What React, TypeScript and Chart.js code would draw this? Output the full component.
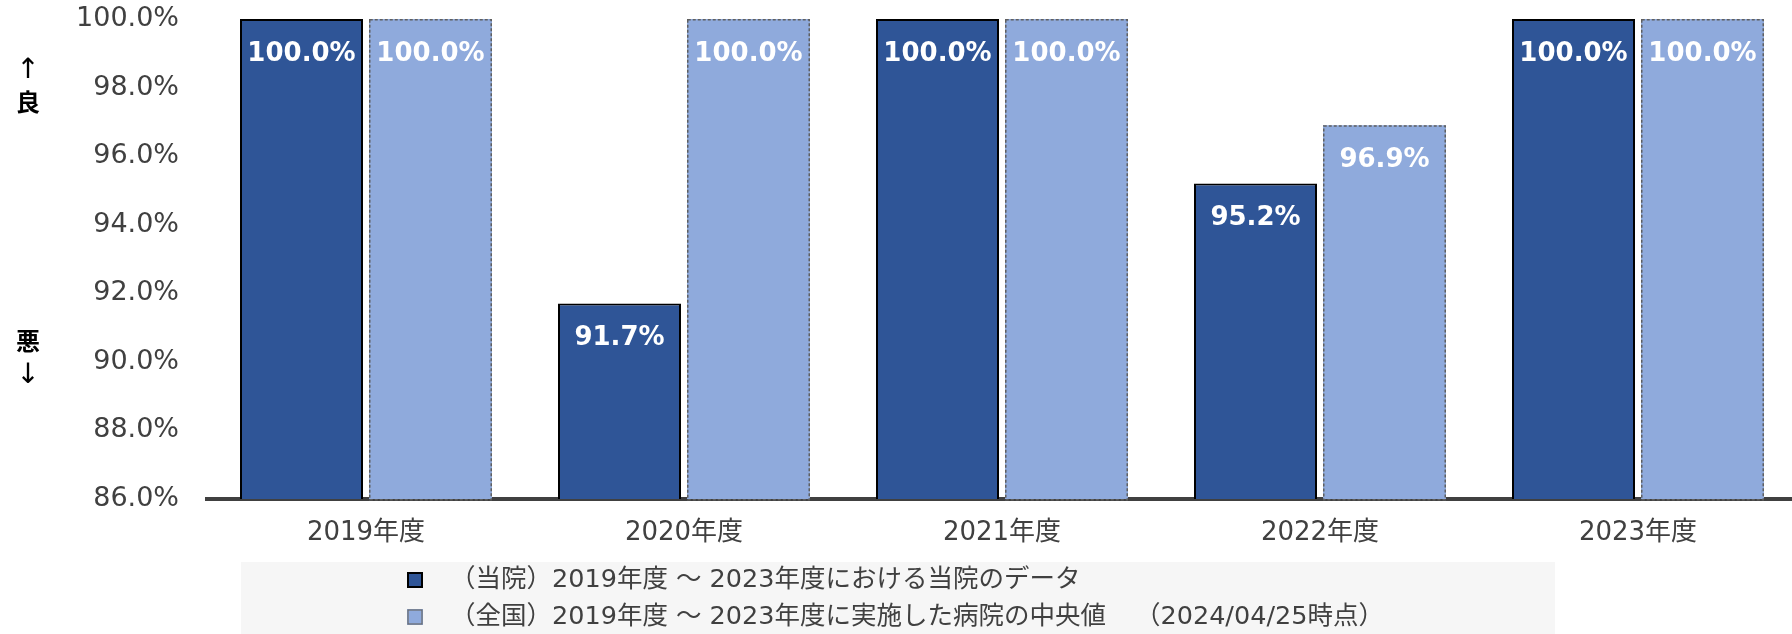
import React, { useEffect, useRef } from 'react';
import { Chart, registerables } from 'chart.js';

Chart.register(...registerables);

const categories = ['2019年度', '2020年度', '2021年度', '2022年度', '2023年度'];
const hospitalValues = [100.0, 91.7, 100.0, 95.2, 100.0];
const nationalValues = [100.0, 100.0, 100.0, 96.9, 100.0];
const seriesLabels = [
  '（当院）2019年度 ～ 2023年度における当院のデータ',
  '（全国）2019年度 ～ 2023年度に実施した病院の中央値  　（2024/04/25時点）',
];
const yMin = 86;
const yMax = 100;
const yStep = 2;
const sideLabelsTop = ['↑', '良'];
const sideLabelsBottom = ['悪', '↓'];

const DARK = '#2F5597';
const LIGHT = '#8FAADC';
const TEXT = '#404040';
const FONT = '"DejaVu Sans", "Noto Sans CJK JP", sans-serif';

const overlayPlugin = {
  id: 'overlay',
  beforeDraw(chart: any) {
    const ctx = chart.ctx;
    ctx.save();
    ctx.fillStyle = '#f6f6f6';
    ctx.fillRect(241, 562, 1314, 72);
    ctx.restore();
  },
  afterDatasetsDraw(chart: any) {
    const ctx = chart.ctx;
    ctx.save();
    // dashed border on national bars
    const m1 = chart.getDatasetMeta(1);
    m1.data.forEach((el: any) => {
      const left = el.x - el.width / 2;
      const top = el.y;
      const bottom = Math.min(el.base, chart.chartArea.bottom);
      ctx.strokeStyle = '#5f5f5f';
      ctx.lineWidth = 1.5;
      ctx.setLineDash([3, 2]);
      ctx.strokeRect(left + 0.75, top + 0.75, el.width - 1.5, bottom - top);
    });
    ctx.setLineDash([]);
    // data labels
    ctx.fillStyle = '#ffffff';
    ctx.font = 'bold 26px ' + FONT;
    ctx.textAlign = 'center';
    ctx.textBaseline = 'middle';
    chart.data.datasets.forEach((ds: any, i: number) => {
      const meta = chart.getDatasetMeta(i);
      meta.data.forEach((el: any, j: number) => {
        ctx.fillText(Number(ds.data[j]).toFixed(1) + '%', el.x, el.y + 35);
      });
    });
    ctx.restore();
  },
  afterDraw(chart: any) {
    const ctx = chart.ctx;
    ctx.save();
    // side labels
    ctx.fillStyle = '#000000';
    ctx.textAlign = 'center';
    ctx.textBaseline = 'middle';
    ctx.font = '28px ' + FONT;
    ctx.fillText(sideLabelsTop[0], 28, 71);
    ctx.fillText(sideLabelsBottom[1], 28, 376);
    ctx.font = 'bold 24px "Noto Sans CJK JP", sans-serif';
    ctx.fillText(sideLabelsTop[1], 28, 102);
    ctx.fillText(sideLabelsBottom[0], 28, 341);
    // legend
    const rows = [580, 617];
    const fills = [DARK, LIGHT];
    const strokes = ['#000000', '#6b6b6b'];
    ctx.textAlign = 'left';
    ctx.font = '25.5px ' + FONT;
    rows.forEach((cy, i) => {
      ctx.fillStyle = fills[i];
      ctx.fillRect(407, cy - 8, 16, 16);
      ctx.strokeStyle = strokes[i];
      ctx.lineWidth = i === 0 ? 2 : 1.2;
      ctx.strokeRect(408, cy - 7, 14, 14);
      ctx.fillStyle = TEXT;
      ctx.fillText(seriesLabels[i], 450, cy);
    });
    ctx.restore();
  },
};

export default function App() {
  const canvasRef = useRef<HTMLCanvasElement | null>(null);

  useEffect(() => {
    if (!canvasRef.current) return;
    const chart = new Chart(canvasRef.current, {
      type: 'bar',
      data: {
        labels: categories,
        datasets: [
          {
            label: seriesLabels[0],
            data: hospitalValues,
            backgroundColor: DARK,
            borderColor: '#000000',
            borderWidth: 2,
            categoryPercentage: 0.8113,
            barPercentage: 0.9535,
          },
          {
            label: seriesLabels[1],
            data: nationalValues,
            backgroundColor: LIGHT,
            borderWidth: 0,
            categoryPercentage: 0.8113,
            barPercentage: 0.9535,
          },
        ],
      },
      options: {
        responsive: false,
        animation: false,
        layout: { padding: { top: 19, left: 0, right: 3, bottom: 0 } },
        plugins: {
          legend: { display: false },
          tooltip: { enabled: false },
        },
        scales: {
          x: {
            z: 1,
            grid: { display: false, drawTicks: false },
            border: { display: true, color: '#404040', width: 4 },
            ticks: { color: TEXT, font: { family: FONT, size: 26 }, padding: 19 },
            afterFit(scale: any) {
              scale.height = 135;
              scale.paddingLeft = 0;
              scale.paddingRight = 0;
            },
          },
          y: {
            min: yMin,
            max: yMax,
            grid: { display: false, drawTicks: false },
            border: { display: false },
            ticks: {
              stepSize: yStep,
              color: TEXT,
              font: { family: FONT, size: 27 },
              padding: 28,
              callback: (v: any) => Number(v).toFixed(1) + '%',
            },
            afterFit(scale: any) {
              scale.width = 207;
              scale.paddingTop = 0;
              scale.paddingBottom = 0;
            },
          },
        },
      },
      plugins: [overlayPlugin],
    });
    return () => chart.destroy();
  }, []);

  return (
    <div
      style={{
        position: 'fixed',
        left: 0,
        top: 0,
        width: 1792,
        height: 634,
        overflow: 'hidden',
        background: '#ffffff',
      }}
    >
      <canvas ref={canvasRef} width={1800} height={634} style={{ display: 'block' }} />
    </div>
  );
}
